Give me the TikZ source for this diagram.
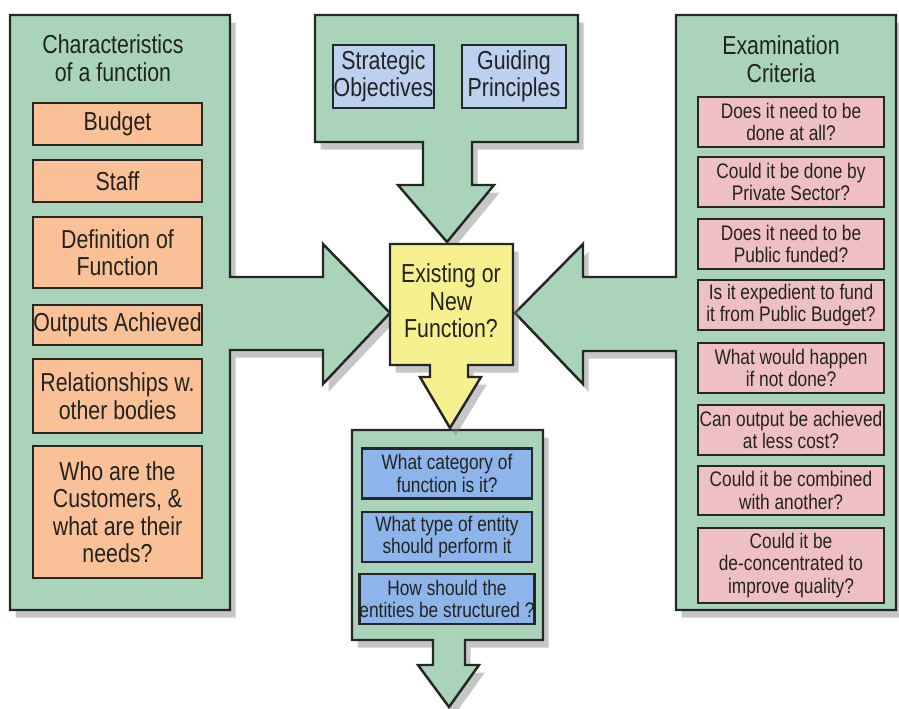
\documentclass[tikz,border=0pt]{standalone}
\usepackage{fontspec}
\setmainfont{Liberation Sans}[FakeStretch=0.82]
\usetikzlibrary{shadows}

\definecolor{panelgreen}{RGB}{170,212,186}
\definecolor{boxorange}{RGB}{250,192,152}
\definecolor{boxpink}{RGB}{238,192,196}
\definecolor{boxblue}{RGB}{188,208,240}
\definecolor{boxdeepblue}{RGB}{142,180,236}
\definecolor{boxyellow}{RGB}{246,240,142}
\definecolor{inktext}{RGB}{35,35,30}

\newcommand{\bigtxt}{\fontsize{7.4}{7.8}\selectfont}
\newcommand{\smalltxt}{\fontsize{6}{6.5}\selectfont}

\tikzset{
  panel/.style={draw=black!85, line width=0.7pt, fill=panelgreen,
    drop shadow={shadow xshift=1.6pt, shadow yshift=-2.2pt, opacity=0.45}},
  item/.style={draw=black!85, line width=0.8pt, align=center, inner sep=0pt, text=inktext},
  orangebox/.style={item, fill=boxorange, font=\bigtxt, minimum width=1.69cm},
  pinkbox/.style={item, fill=boxpink, font=\smalltxt, minimum width=1.86cm},
  topbox/.style={item, fill=boxblue, font=\bigtxt, minimum height=0.63cm},
  bluebox/.style={item, fill=boxdeepblue, font=\smalltxt, minimum width=1.70cm, minimum height=0.50cm},
  heading/.style={align=center, font=\bigtxt, text=inktext}
}

\begin{document}
\begin{tikzpicture}[x=0.01cm, y=-0.01cm]

    \useasboundingbox (0,0) rectangle (899,709);

    % Left panel with arrow to the centre
    \draw[panel] (10,15) -- (230,15) -- (230,277) -- (323,277) -- (323,244) -- (390,313)
        -- (323,384) -- (323,350) -- (230,350) -- (230,610) -- (10,610) -- cycle;

    % Right panel with arrow to the centre
    \draw[panel] (676,15) -- (896,15) -- (896,610) -- (676,610) -- (676,351) -- (583,351)
        -- (583,384) -- (515,313) -- (583,244) -- (583,277) -- (676,277) -- cycle;

    % Top panel with arrow down
    \draw[panel] (315,15) -- (578,15) -- (578,142) -- (472,142) -- (472,185) -- (494,185)
        -- (447,242) -- (398,185) -- (423,185) -- (423,142) -- (315,142) -- cycle;

    % Bottom panel with arrow down
    \draw[panel] (352,430) -- (543,430) -- (543,640) -- (465,640) -- (465,665) -- (479,665)
        -- (449,707) -- (418,665) -- (433,665) -- (433,640) -- (352,640) -- cycle;

    % Centre box with arrow down
    \draw[panel, fill=boxyellow] (390,244) -- (513,244) -- (513,365) -- (468,365) -- (468,377)
        -- (481,377) -- (450,428) -- (420,377) -- (430,377) -- (430,365) -- (390,365) -- cycle;

    % Headings
    \node[heading] (chartitle) at (113,58) {Characteristics\\of a function};
    \node[heading] (examtitle) at (781,59) {Examination\\Criteria};
    \node[heading] (func) at (451,301) {Existing or\\New\\Function?};

    % Characteristics
    \node[orangebox, minimum height=0.42cm] (budget) at (117.5,124) {Budget};
    \node[orangebox, minimum height=0.42cm] (staff) at (117.5,181) {Staff};
    \node[orangebox, minimum height=0.71cm] (definition) at (117.5,252.5) {Definition of\\Function};
    \node[orangebox, minimum height=0.40cm] (outputs) at (117.5,325) {Outputs Achieved};
    \node[orangebox, minimum height=0.74cm] (relations) at (117.5,396) {Relationships w.\\other bodies};
    \node[orangebox, minimum height=1.32cm] (customers) at (117.5,512) {Who are the\\Customers, \&\\what are their\\needs?};

    % Strategy and principles
    \node[topbox, minimum width=1.01cm] (strategy) at (383.5,76.5) {Strategic\\Objectives};
    \node[topbox, minimum width=1.04cm] (principles) at (514,76.5) {Guiding\\Principles};

    % Examination criteria
    \node[pinkbox, minimum height=0.50cm] (crit1) at (791,122) {Does it need to be\\done at all?};
    \node[pinkbox, minimum height=0.50cm] (crit2) at (791,182) {Could it be done by\\Private Sector?};
    \node[pinkbox, minimum height=0.50cm] (crit3) at (791,244) {Does it need to be\\Public funded?};
    \node[pinkbox, minimum height=0.50cm] (crit4) at (791,305) {Is it expedient to fund\\it from Public Budget?};
    \node[pinkbox, minimum height=0.50cm] (crit5) at (791,368) {What would happen\\if not done?};
    \node[pinkbox, minimum height=0.50cm] (crit6) at (791,430) {Can output be achieved\\at less cost?};
    \node[pinkbox, minimum height=0.49cm] (crit7) at (791,490.5) {Could it be combined\\with another?};
    \node[pinkbox, minimum height=0.75cm] (crit8) at (791,565.5) {Could it be\\de-concentrated to\\improve quality?};

    % Outcome questions
    \node[bluebox] (category) at (447,473.5) {What category of\\function is it?};
    \node[bluebox] (entity) at (447,537) {What type of entity\\should perform it};
    \node[bluebox] (structure) at (447,599) {How should the\\entities be structured ?};

\end{tikzpicture}
\end{document}
